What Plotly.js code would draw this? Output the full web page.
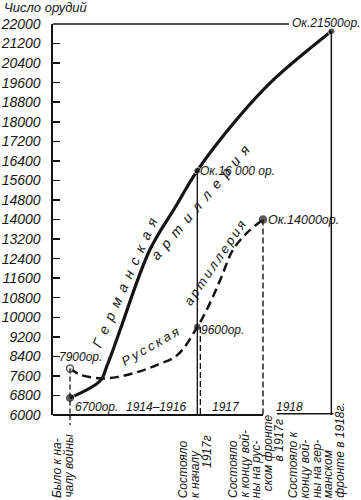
<!DOCTYPE html>
<html><head><meta charset="utf-8">
<script src="https://cdn.plot.ly/plotly-3.0.1.min.js"></script>
<style>html,body{margin:0;padding:0;background:#fff}#chart{width:361px;height:500px}</style>
</head><body><div id="chart"></div>
<script>
// Stages on the schematic time axis (years along the drawn axis from the start of the war)
const stageX = [0, 1.9, 2.88, 3.9];
const stageLines = [
  ["Было к на-", "чалу войны"],
  ["Состояло", "к началу", "1917г"],
  ["Состояло", "к концу вой-", "ны на рус-", "ском фронте", "в 1917г"],
  ["Состояло к", "концу вой-", "ны на гер-", "манском", "фронте в 1918г."]
];
const periodLabels = ["1914–1916", "1917", "1918"];
const periodX = [1.28, 2.33, 3.27];

// German artillery (number of guns)
const germanX = [0, 0.45, 0.55, 0.64, 0.75, 1.19, 1.57, 1.9, 2.49, 3.03, 3.9];
const germanY = [6700, 7400, 8000, 8650, 9500, 12750, 14500, 16000, 18100, 19700, 21700];
// Russian artillery
const russianX = [0, 0.15, 0.45, 0.70, 1.0, 1.3, 1.6, 1.9, 2.11, 2.26, 2.43, 2.64, 2.88];
const russianY = [7900, 7650, 7500, 7550, 7750, 8050, 8450, 9600, 10700, 11650, 12750, 13450, 14000];

// Key values shown with labels
const germanKeyX = [0, 1.9, 3.9];
const germanKeyY = [6700, 16000, 21700];
const germanKeyText = ["6700ор.", "Ок.16 000 ор.", "Ок.21500ор."];
const russianKeyX = [0, 1.9, 2.88];
const russianKeyY = [7900, 9600, 14000];
const russianKeyText = ["7900ор.", "9600ор.", "Ок.14000ор."];

const yTicks = [6000, 6800, 7600, 8400, 9200, 10000, 10800, 11600, 12400, 13200, 14000,
  14800, 15600, 16400, 17200, 18000, 18800, 19600, 20400, 21200, 22000];
const yTitle = "Число орудий";
const germanName = "Германская артиллерия";
const russianName = "Русская артиллерия";

const FONT = "Liberation Sans, Arial, sans-serif";
const ink = "#141414";
const PLOT_TOP = 24, PLOT_BOTTOM = 415, PLOT_H = PLOT_BOTTOM - PLOT_TOP;
const py = p => (PLOT_BOTTOM - p) / PLOT_H; // pixel row -> paper y
const italic = (size) => ({family: FONT, size: size, color: ink, style: "italic"});
const spaced = (s, sp) => s.split("").join(sp);

const traces = [
  {x: germanX, y: germanY, mode: "lines", line: {color: ink, width: 3.2, shape: "spline", smoothing: 1}, hoverinfo: "skip"},
  {x: russianX, y: russianY, mode: "lines", line: {color: ink, width: 2.5, dash: "9px,5px", shape: "spline", smoothing: 1}, hoverinfo: "skip"},
  {x: germanKeyX, y: germanKeyY, mode: "markers", marker: {color: ink, size: [9, 7, 7]}, cliponaxis: false, hoverinfo: "skip"},
  {x: russianKeyX, y: russianKeyY, mode: "markers", marker: {color: ["#fff", ink, ink], size: [7, 5, 7], line: {color: ink, width: 1.5}}, cliponaxis: false, hoverinfo: "skip"}
];

const shapes = [
  // frame lines
  {type: "line", xref: "paper", yref: "paper", x0: 0, x1: (289 - 53) / 292, y0: 1, y1: 1, line: {color: ink, width: 1.5}},
  {type: "line", xref: "x", yref: "paper", x0: -0.3, x1: stageX[2], y0: 0, y1: 0, line: {color: ink, width: 1.8}},
  {type: "line", xref: "x", yref: "paper", x0: 3.09, x1: stageX[3] + 0.03, y0: 0.003, y1: 0.003, line: {color: ink, width: 1.5}},
  // drop lines
  {type: "line", xref: "x", yref: "y", x0: stageX[0], x1: stageX[0], y0: russianKeyY[0], y1: 6000, line: {color: ink, width: 1.3, dash: "5px,3px"}},
  {type: "line", xref: "x", yref: "paper", x0: stageX[0], x1: stageX[0], y0: 0, y1: py(425), line: {color: ink, width: 1.3, dash: "5px,3px"}},
  {type: "line", xref: "x", yref: "y", x0: stageX[1], x1: stageX[1], y0: germanKeyY[1], y1: 6000, line: {color: ink, width: 1.4}},
  {type: "line", xref: "x", yref: "y", x0: stageX[1] + 0.045, x1: stageX[1] + 0.045, y0: russianKeyY[1], y1: 6000, line: {color: ink, width: 1.3, dash: "6px,3px"}},
  {type: "line", xref: "x", yref: "y", x0: stageX[2], x1: stageX[2], y0: russianKeyY[2], y1: 6000, line: {color: ink, width: 1.4, dash: "6px,3px"}},
  {type: "line", xref: "x", yref: "y", x0: stageX[3], x1: stageX[3], y0: germanKeyY[2], y1: 6000, line: {color: ink, width: 1.5}}
];

const ann = [];
ann.push({xref: "paper", yref: "paper", x: (2 - 53) / 292, y: py(8), xanchor: "left", yanchor: "middle", text: yTitle, showarrow: false, font: italic(13)});
// value labels
ann.push({x: germanKeyX[0], y: germanKeyY[0], xanchor: "left", yanchor: "middle", xshift: 3, yshift: -9, text: germanKeyText[0], showarrow: false, font: italic(12)});
ann.push({x: germanKeyX[1], y: germanKeyY[1], xanchor: "left", yanchor: "middle", xshift: 1, yshift: 0, text: germanKeyText[1], showarrow: false, font: italic(12)});
ann.push({x: germanKeyX[2], y: germanKeyY[2], xanchor: "left", yanchor: "middle", xshift: -41, yshift: 8, text: germanKeyText[2], showarrow: false, font: italic(12)});
ann.push({x: russianKeyX[0], y: russianKeyY[0], xanchor: "center", yanchor: "middle", xshift: 10, yshift: 12, text: russianKeyText[0], showarrow: false, font: italic(12)});
ann.push({x: russianKeyX[1], y: russianKeyY[1], xanchor: "left", yanchor: "middle", xshift: 2, yshift: -3, text: russianKeyText[1], showarrow: false, font: italic(12)});
ann.push({x: russianKeyX[2], y: russianKeyY[2], xanchor: "left", yanchor: "middle", xshift: 3, yshift: 0, text: russianKeyText[2], showarrow: false, font: italic(12.5)});
// period labels
periodLabels.forEach((t, i) => ann.push({x: periodX[i], y: 6000, yref: "y", xanchor: "center", yanchor: "bottom", yshift: -1, text: t, showarrow: false, font: italic(12)}));
// curve names
const gParts = germanName.split(" "), rParts = russianName.split(" ");
ann.push({x: 0.82, y: 11450, text: spaced(gParts[0], "\u2002"), textangle: -66, showarrow: false, font: italic(14)});
ann.push({x: 1.95, y: 14700, text: spaced(gParts[1], "\u2002"), textangle: -50, showarrow: false, font: italic(14)});
ann.push({x: 1.19, y: 8820, text: spaced(rParts[0], "\u2009"), textangle: -30, showarrow: false, font: italic(13)});
ann.push({x: 2.15, y: 12220, text: spaced(rParts[1], "\u2009"), textangle: -56, showarrow: false, font: italic(13)});
// stage labels, one rotated column per line; most columns start at the bottom edge
const firstShift = [-13, -14, -30, -38];
const lineGap = 11.6;
const lineBottom = [[500, 500], [500, 500, 470], [500, 500, 500, 493, 463], [500, 500, 500, 500, 500]];
stageLines.forEach((lines, i) => {
  lines.forEach((t, j) => {
    ann.push({x: stageX[i], xref: "x", yref: "paper", y: py(lineBottom[i][j]), xanchor: "center", yanchor: "bottom",
      xshift: firstShift[i] + j * lineGap, text: t, textangle: -90, showarrow: false, font: italic(12)});
  });
});

const layout = {
  width: 361, height: 500, autosize: false,
  margin: {l: 53, r: 16, t: PLOT_TOP, b: 500 - PLOT_BOTTOM, pad: 0},
  paper_bgcolor: "#fff", plot_bgcolor: "#fff",
  showlegend: false,
  xaxis: {range: [-0.254, 4.104], visible: false, fixedrange: true},
  yaxis: {range: [6000, 22000], tickvals: yTicks, ticktext: yTicks.map(String), showgrid: false, zeroline: false,
    showline: true, linecolor: ink, linewidth: 1.6, ticks: "inside", ticklen: 7, tickwidth: 1.5, tickcolor: ink,
    ticklabelstandoff: 8, tickfont: italic(14), fixedrange: true},
  shapes: shapes,
  annotations: ann
};
Plotly.newPlot("chart", traces, layout, {staticPlot: true, displayModeBar: false});
</script></body></html>
